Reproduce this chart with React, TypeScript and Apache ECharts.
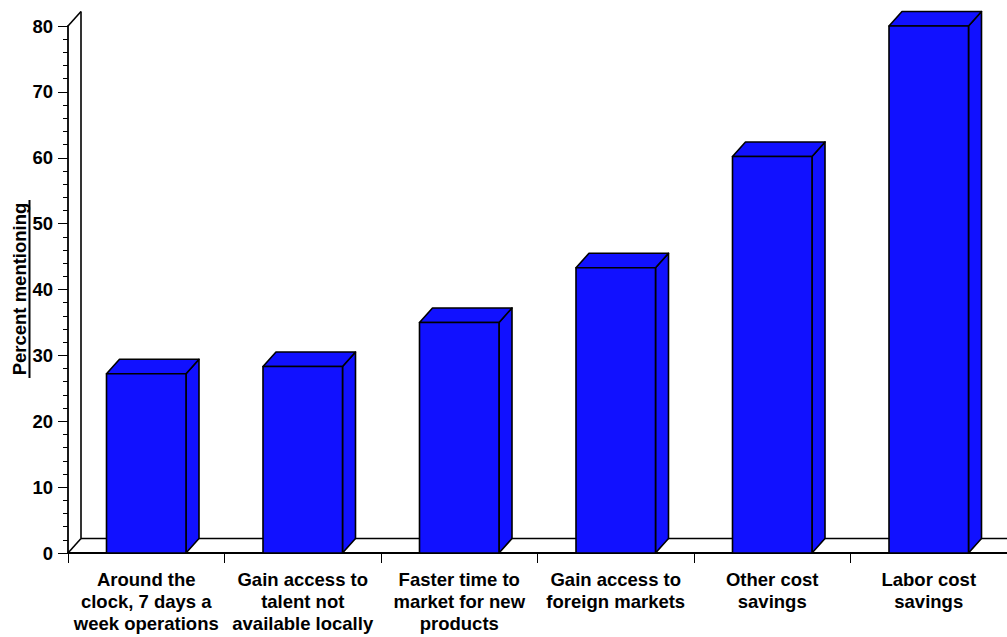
import React, { useEffect, useRef } from "react";
import * as echarts from "echarts";

const categories = [
  "Around the\nclock, 7 days a\nweek operations",
  "Gain access to\ntalent not\navailable locally",
  "Faster time to\nmarket for new\nproducts",
  "Gain access to\nforeign markets",
  "Other cost\nsavings",
  "Labor cost\nsavings",
];
const values = [27.2, 28.3, 35.0, 43.3, 60.2, 80.0];
const yTicks = { min: 0, max: 80, interval: 10 };
const yTitle = "Percent mentioning";

const DX = 13;
const DY = -14.5;
const BLUE = "#1111ff";
const FONT = "'Liberation Sans', Arial, sans-serif";

export default function App() {
  const ref = useRef<HTMLDivElement>(null);
  useEffect(() => {
    if (!ref.current) return;
    const chart = echarts.init(ref.current, null, { renderer: "svg" });
    const faceStyle = { fill: BLUE, stroke: "#000", lineWidth: 1.6, lineJoin: "round" };
    const option: any = {
      animation: false,
      backgroundColor: "#fff",
      grid: { left: 68, right: 0, top: 26, bottom: 84, containLabel: false },
      xAxis: {
        type: "category",
        data: categories,
        boundaryGap: true,
        axisLine: { show: true, lineStyle: { color: "#000", width: 1.8 } },
        axisTick: { show: true, length: 10, interval: 0, alignWithLabel: false, lineStyle: { color: "#000", width: 1 } },
        axisLabel: {
          interval: 0,
          margin: 15,
          color: "#000",
          fontFamily: FONT,
          fontWeight: "bold",
          fontSize: 18.5,
          lineHeight: 22,
          align: "center",
        },
        splitLine: { show: false },
      },
      yAxis: {
        type: "value",
        min: yTicks.min,
        max: yTicks.max,
        interval: yTicks.interval,
        axisLine: { show: true, lineStyle: { color: "#000", width: 1.8 } },
        axisTick: { show: true, length: 10, lineStyle: { color: "#000", width: 1 } },
        minorTick: { show: true, splitNumber: 5, length: 5, lineStyle: { color: "#000", width: 1 } },
        axisLabel: {
          margin: 15,
          color: "#000",
          fontFamily: FONT,
          fontWeight: "bold",
          fontSize: 18.5,
        },
        splitLine: { show: false },
        minorSplitLine: { show: false },
      },
      graphic: [
        {
          type: "text",
          x: 19,
          y: 289,
          rotation: Math.PI / 2,
          style: {
            text: yTitle,
            fill: "#000",
            font: `bold 18.5px ${FONT}`,
            textAlign: "center",
            textVerticalAlign: "middle",
          },
        },
        {
          type: "line",
          shape: { x1: 29.5, y1: 200, x2: 29.5, y2: 378 },
          style: { stroke: "#000", lineWidth: 2 },
        },
      ],
      series: [
        {
          type: "custom",
          name: "frame",
          data: [[0, 0]],
          clip: false,
          silent: true,
          z: 1,
          renderItem: (params: any, api: any) => {
            const cs = params.coordSys;
            const gx = cs.x, gy = cs.y, gw = cs.width, gb = cs.y + cs.height;
            const ls = { stroke: "#000", lineWidth: 1.6, fill: "none" };
            return {
              type: "group",
              children: [
                { type: "line", shape: { x1: gx + DX, y1: gb + DY, x2: gx + gw + DX, y2: gb + DY }, style: ls },
                { type: "line", shape: { x1: gx, y1: gb, x2: gx + DX, y2: gb + DY }, style: ls },
                { type: "line", shape: { x1: gx, y1: gy, x2: gx + DX, y2: gy + DY }, style: ls },
                { type: "line", shape: { x1: gx + DX, y1: gy + DY, x2: gx + DX, y2: gb + DY }, style: ls },
              ],
            };
          },
        },
        {
          type: "custom",
          name: "Percent mentioning",
          data: values.map((v, i) => [i, v]),
          encode: { x: 0, y: 1 },
          clip: false,
          z: 3,
          renderItem: (params: any, api: any) => {
            const ci = api.value(0);
            const v = api.value(1);
            const top = api.coord([ci, v]);
            const base = api.coord([ci, 0]);
            const w = api.size([1, 0])[0] * 0.508;
            const l = top[0] - w / 2;
            const r = top[0] + w / 2;
            const t = top[1];
            const b = base[1];
            return {
              type: "group",
              children: [
                {
                  type: "polygon",
                  shape: { points: [[r, t], [r + DX, t + DY], [r + DX, b + DY], [r, b]] },
                  style: faceStyle,
                },
                {
                  type: "polygon",
                  shape: { points: [[l, t], [l + DX, t + DY], [r + DX, t + DY], [r, t]] },
                  style: faceStyle,
                },
                {
                  type: "rect",
                  shape: { x: l, y: t, width: w, height: b - t },
                  style: faceStyle,
                },
              ],
            };
          },
        },
      ],
    };
    chart.setOption(option);
    return () => chart.dispose();
  }, []);
  return (
    <div
      ref={ref}
      style={{ position: "absolute", left: 0, top: 0, width: 1007, height: 637 }}
    />
  );
}
